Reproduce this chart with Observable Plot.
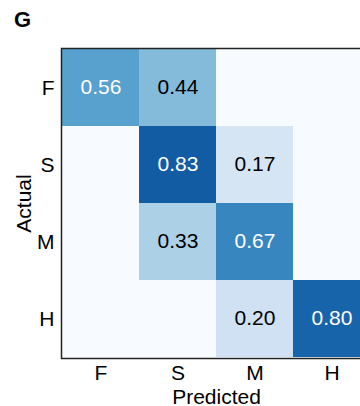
<!DOCTYPE html>
<html>
<head>
<meta charset="utf-8">
<script src="https://cdn.jsdelivr.net/npm/d3@7"></script>
<script src="https://cdn.jsdelivr.net/npm/@observablehq/plot@0.6"></script>
<style>
  html, body { margin: 0; padding: 0; background: #fff; overflow: hidden; width: 360px; height: 406px; }
  #wrap { position: relative; width: 360px; height: 406px; overflow: hidden; }
  #chart svg { max-width: none !important; display: block; }
  #title { position: absolute; left: 14px; top: 9px; font: bold 22px "Liberation Sans", Arial, sans-serif; line-height: 22px; color: #000; }
</style>
</head>
<body>
<div id="wrap">
  <div id="chart"></div>
  <div id="title">G</div>
</div>
<script>
const actualLabels = ["F", "S", "M", "H"];
const predictedLabels = ["F", "S", "M", "H"];
const rowF = [0.56, 0.44, 0.00, 0.00];
const rowS = [0.00, 0.83, 0.17, 0.00];
const rowM = [0.00, 0.33, 0.67, 0.00];
const rowH = [0.00, 0.00, 0.20, 0.80];
const rows = [rowF, rowS, rowM, rowH];

const cells = [];
actualLabels.forEach((a, i) => {
  predictedLabels.forEach((p, j) => {
    cells.push({actual: a, predicted: p, value: rows[i][j]});
  });
});

const font = '"Liberation Sans", Arial, sans-serif';

const chart = Plot.plot({
  width: 372,
  height: 406,
  marginLeft: 61,
  marginRight: 1,
  marginTop: 48,
  marginBottom: 48,
  style: {fontFamily: font, fontSize: "21px", color: "#000", background: "#fff", maxWidth: "none"},
  x: {domain: predictedLabels, padding: 0, label: null},
  y: {domain: actualLabels, padding: 0, label: null},
  color: {type: "linear", scheme: "blues", domain: [0, 1]},
  marks: [
    Plot.cell(cells, {x: "predicted", y: "actual", fill: "value", inset: 0}),
    Plot.text(cells.filter(d => d.value > 0), {
      x: "predicted", y: "actual",
      text: d => d.value.toFixed(2),
      fill: d => d.value > 0.5 ? "#fff" : "#000",
      fontSize: 21, dy: -1
    }),
    Plot.frame({stroke: "#222", strokeWidth: 1.5}),
    Plot.axisX({anchor: "bottom", tickSize: 0, tickPadding: 7, fontSize: 21, label: "Predicted", labelAnchor: "center", labelArrow: "none", labelOffset: 45}),
    Plot.axisY({anchor: "left", tickSize: 0, tickPadding: 7, fontSize: 21, label: "Actual", labelAnchor: "center", labelArrow: "none", labelOffset: 45})
  ]
});
document.getElementById("chart").appendChild(chart);
</script>
</body>
</html>
